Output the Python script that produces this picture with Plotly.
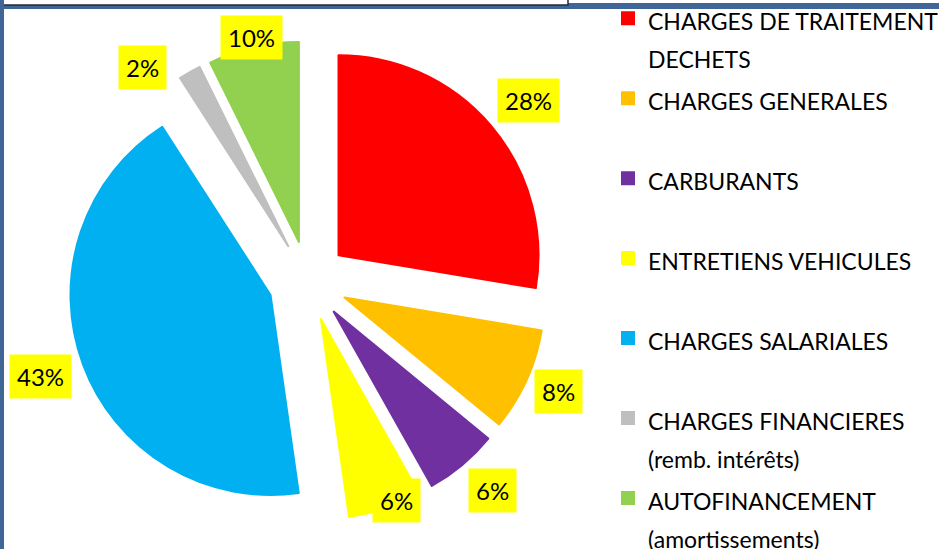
import math
import plotly.graph_objects as go

W, H = 939, 549

# ---------------- data ----------------
categories = [
    "CHARGES DE TRAITEMENT<br>DECHETS",
    "CHARGES GENERALES",
    "CARBURANTS",
    "ENTRETIENS VEHICULES",
    "CHARGES SALARIALES",
    "CHARGES FINANCIERES<br>(remb. intérêts)",
    "AUTOFINANCEMENT<br>(amortissements)",
]
values = [27.6, 8.3, 5.9, 5.9, 43.1, 1.8, 7.3]
pct_labels = ["28%", "8%", "6%", "6%", "43%", "2%", "10%"]
colors = ["#FF0000", "#FFC000", "#7030A0", "#FFFF00", "#00B0F0", "#BFBFBF", "#92D050"]

# ---------------- layout helpers ----------------
FONT = "Lato"
PULL = 0.2
# pie box in pixels (left, top, size)
box_l, box_t, box_s = 68, 41, 480
cx, cy = box_l + box_s / 2, box_t + box_s / 2
r = (box_s / 2) / (1 + PULL)

# label placement tweaks (radial factor, angle offset in degrees)
lab_r = [1.425, 1.37, 1.395, 1.185, 1.42, 1.35, 1.25]
lab_da = [1.1, -0.7, -1.4, -3.2, 0.8, -8.3, 0.15]

def px(x):
    return x / W

def py(y):
    return 1 - y / H

def legend_name(n):
    if "<br>" not in n:
        n = n + "<br> "
    parts = n.split("<br>")
    return "<br>".join('<span style="font-size:23px">%s</span>' % p for p in parts)

fig = go.Figure()
fig.add_trace(go.Pie(
    labels=[legend_name(c) for c in categories],
    values=values,
    sort=False,
    direction="clockwise",
    rotation=0,
    pull=[PULL] * len(values),
    marker=dict(colors=colors, line=dict(color=colors, width=2)),
    textinfo="none",
    hoverinfo="skip",
    domain=dict(x=[px(box_l), px(box_l + box_s)], y=[py(box_t + box_s), py(box_t)]),
))

total = sum(values)
annotations = []
cum = 0.0
for i, v in enumerate(values):
    mid = (cum + v / 2) / total * 360.0 + lab_da[i]
    cum += v
    a = math.radians(mid)
    d = r * lab_r[i]
    x = cx + d * math.sin(a)
    y = cy - d * math.cos(a)
    annotations.append(dict(
        x=px(x), y=py(y), xref="paper", yref="paper",
        text=pct_labels[i], showarrow=False,
        xanchor="center", yanchor="middle",
        bgcolor="#FFFF00", borderpad=7,
        font=dict(family=FONT, size=24, color="#000000"),
    ))

frame = "#3F6696"
shapes = [
    dict(type="rect", xref="paper", yref="paper", x0=0, x1=1, y0=py(9), y1=py(3),
         fillcolor=frame, line=dict(width=0), layer="above"),
    dict(type="rect", xref="paper", yref="paper", x0=px(-2), x1=px(568), y0=py(5), y1=py(-2),
         fillcolor="#FFFFFF", line=dict(color="#1F2B3A", width=1.5), layer="above"),
    dict(type="rect", xref="paper", yref="paper", x0=0, x1=px(4), y0=0, y1=1,
         fillcolor=frame, line=dict(width=0), layer="above"),
]

fig.update_layout(
    width=W, height=H,
    margin=dict(l=0, r=0, t=0, b=0, autoexpand=False),
    paper_bgcolor="#FFFFFF",
    plot_bgcolor="#FFFFFF",
    font=dict(family=FONT, color="#000000"),
    showlegend=True,
    legend=dict(
        x=px(608), y=py(-7.5), xanchor="left", yanchor="top",
        font=dict(family=FONT, size=29.6, color="#000000"),
        valign="top", bgcolor="rgba(0,0,0,0)", borderwidth=0,
        traceorder="normal", maxheight=1000,
    ),
    annotations=annotations,
    shapes=shapes,
)

fig.write_html(
    "out.html",
    config={"displayModeBar": False},
    post_script="document.body.style.margin='0';document.body.style.overflow='hidden';",
)
